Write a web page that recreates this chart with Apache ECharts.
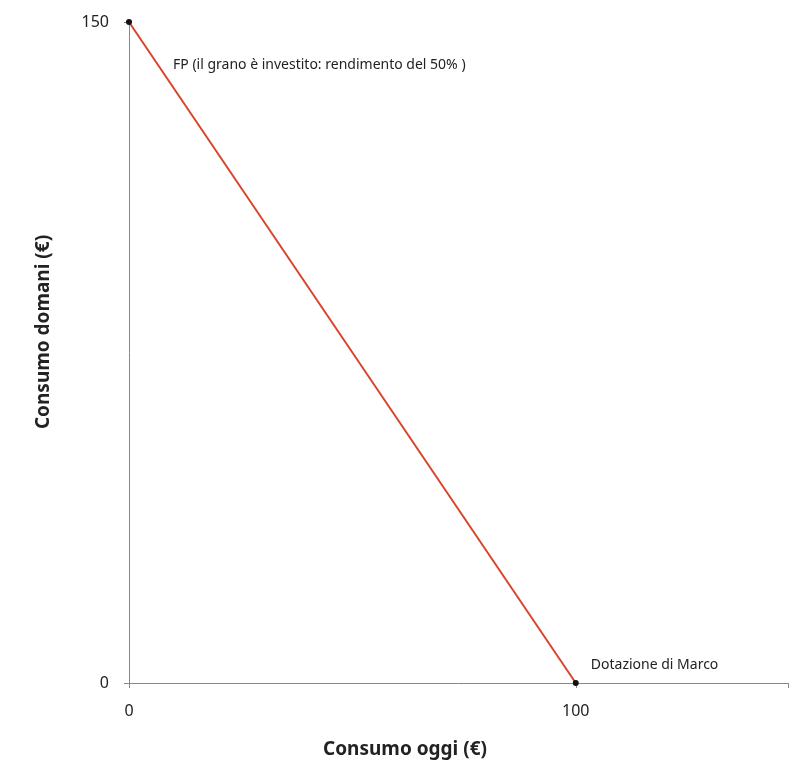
<!DOCTYPE html>
<html><head><meta charset="utf-8">
<script src="https://cdn.jsdelivr.net/npm/echarts@6/dist/echarts.min.js"></script>
<style>html,body{margin:0;padding:0;background:#fff}#c{width:810px;height:769px}</style>
</head><body><div id="c"></div>
<script>
const xVals = [0, 100];
const yVals = [150, 0];
const xMax = 147.5;
const xTicks = [0, 100];
const yTicks = [0, 150];
const pointLabels = ['FP (il grano è investito: rendimento del 50% )', 'Dotazione di Marco'];
const xName = 'Consumo oggi (€)';
const yName = 'Consumo domani (€)';

const chart = echarts.init(document.getElementById('c'));
const font = 'Noto Sans';
chart.setOption({
  animation: false,
  textStyle: { fontFamily: font },
  grid: { left: 129, right: 22, top: 22, bottom: 86 },
  graphic: [
    { type: 'text', left: 'center', x: 0, style: { text: xName, x: 390, y: 750, align: 'center', verticalAlign: 'middle', font: 'bold 19px Noto Sans', fill: '#222' } },
    { type: 'text', style: { text: yName, x: 0, y: 0, align: 'center', verticalAlign: 'middle', font: 'bold 19px Noto Sans', fill: '#222' }, x: 44, y: 332, rotation: Math.PI / 2 }
  ],
  xAxis: {
    type: 'value', min: 0, max: xMax,
    axisLine: { lineStyle: { color: '#888' } },
    axisTick: { show: true, customValues: [0, 100, xMax], length: 5, lineStyle: { color: '#888' } },
    axisLabel: { customValues: xTicks, fontSize: 16, color: '#222', margin: 20 },
    splitLine: { show: false }
  },
  yAxis: {
    type: 'value', min: 0, max: 150,
    axisLine: { show: true, lineStyle: { color: '#888' } },
    axisTick: { show: true, customValues: yTicks, length: 5, lineStyle: { color: '#888' } },
    axisLabel: { customValues: yTicks, fontSize: 16, color: '#222', margin: 20 },
    splitLine: { show: false }
  },
  series: [{
    type: 'line',
    data: xVals.map((x, i) => [x, yVals[i]]),
    lineStyle: { color: '#d9442b', width: 2 },
    symbol: 'circle', symbolSize: 6,
    itemStyle: { color: '#111' },
    label: {
      show: true, fontSize: 14, color: '#222',
      formatter: p => pointLabels[p.dataIndex],
      position: 'right'
    },
    labelLayout: function (p) {
      if (p.dataIndex === 0) return { dx: 36, dy: 43 };
      return { dx: 7, dy: -18 };
    }
  }]
});
</script></body></html>
